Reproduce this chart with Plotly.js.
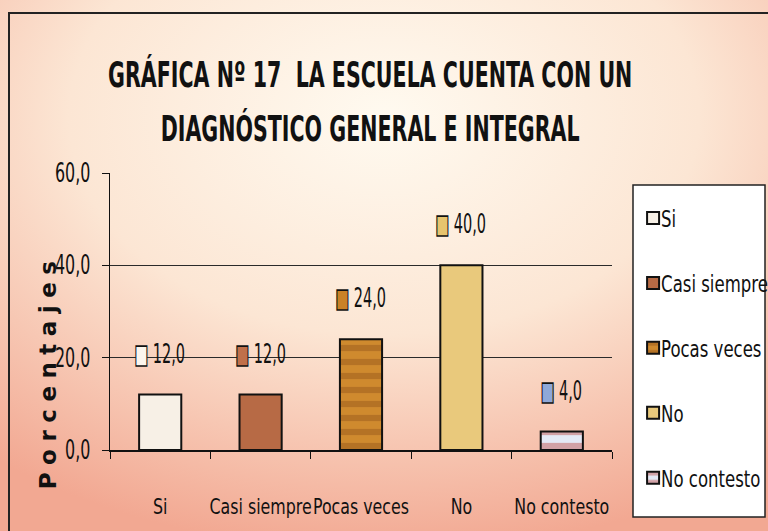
<!DOCTYPE html>
<html>
<head>
<meta charset="utf-8">
<script src="https://cdn.plot.ly/plotly-3.0.1.min.js"></script>
<style>html,body{margin:0;padding:0;background:#fff;}#chart{width:768px;height:531px;}</style>
</head>
<body>
<div id="chart"></div>
<script>
const categories = ["Si", "Casi siempre", "Pocas veces", "No", "No contesto"];
const values = [12.0, 12.0, 24.0, 40.0, 4.0];
const yTickVals = [0, 20, 40, 60];
const colors = ["#f7f0e6", "#b76a45", "#cf8a2e", "#e9c97c", "#e4e9f6"];
const patternColors = ["", "", "#9a5a1c", "", "#c05a55"];
const keyColors = ["#fbf6ee", "#c0704a", "#c98226", "#e6c46e", "#8fa8d8"];

const NARROW = '"Liberation Sans Narrow", "DejaVu Sans Condensed", "Arial Narrow", sans-serif';

const traces = categories.map((c, i) => {
  const m = {color: colors[i], line: {color: "#111", width: 2}};
  if (patternColors[i]) {
    m.pattern = {shape: "-", fgcolor: patternColors[i], bgcolor: colors[i], size: 14, solidity: 0.45, fillmode: "overlay"};
  }
  return {
    type: "bar",
    name: c,
    x: [c],
    y: [values[i]],
    width: 0.42,
    marker: m,
    legendgroup: "g" + i,
    hoverinfo: "skip"
  };
});

const fmt = v => v.toFixed(1).replace(".", ",");
const annotations = categories.map((c, i) => ({
  x: c, y: values[i], xref: "x", yref: "y",
  yshift: 41, xanchor: "center", yanchor: "middle",
  showarrow: false,
  text: "<span style='color:" + keyColors[i] + ";stroke:#111;stroke-width:1.6px'>■</span> " + fmt(values[i]),
  font: {family: NARROW, size: 26, color: "#111"}
}));
annotations.push({
  xref: "paper", yref: "paper", x: (48 - 110) / 502, y: (450 - 372) / 277,
  xanchor: "center", yanchor: "middle", textangle: -90, showarrow: false,
  text: "Porcentajes",
  font: {family: "DejaVu Sans", size: 23, color: "#111", weight: "bold"}
});

const gradSvg = "<svg xmlns='http://www.w3.org/2000/svg' width='768' height='531'><defs><radialGradient id='g' cx='50%' cy='22%' r='82%'><stop offset='0' stop-color='#fffaf0'/><stop offset='0.5' stop-color='#fce6d4'/><stop offset='1' stop-color='#f2a892'/></radialGradient></defs><rect width='768' height='531' fill='url(#g)'/></svg>";

const layout = {
  width: 768, height: 531,
  margin: {l: 110, r: 156, t: 173, b: 81, autoexpand: false},
  paper_bgcolor: "#fbe2d3",
  plot_bgcolor: "#d3d3d6",
  separators: ",.",
  barmode: "overlay",
  showlegend: true,
  title: {
    text: "GRÁFICA Nº 17  LA ESCUELA CUENTA CON UN<br>DIAGNÓSTICO GENERAL E INTEGRAL",
    font: {family: NARROW, size: 36, color: "#111", weight: "bold"},
    x: 0.482, xanchor: "center", xref: "container",
    y: 1 - 87 / 531, yanchor: "middle", yref: "container"
  },
  xaxis: {
    type: "category",
    showline: true, linecolor: "#111", linewidth: 2,
    ticks: "outside", tickson: "boundaries", ticklen: 7, tickcolor: "#111",
    ticklabelstandoff: 36, tickangle: 0,
    tickfont: {family: NARROW, size: 22, color: "#111"},
    showgrid: false, zeroline: false, fixedrange: true
  },
  yaxis: {
    range: [0, 60],
    tickvals: yTickVals,
    tickformat: ".1f",
    showline: true, linecolor: "#111", linewidth: 1.5,
    ticks: "outside", ticklen: 7, tickcolor: "#111",
    ticklabelstandoff: 6,
    tickfont: {family: NARROW, size: 26, color: "#111"},
    showgrid: true, gridcolor: "#2a2a2a", gridwidth: 1.6,
    zeroline: false, fixedrange: true
  },
  legend: {
    x: 1.042, y: 0.957, xanchor: "left", yanchor: "top",
    bgcolor: "rgba(0,0,0,0)", borderwidth: 0,
    font: {family: NARROW, size: 23, color: "#111"},
    title: {text: "&nbsp;", font: {size: 9}},
    tracegroupgap: 32, itemwidth: 30, maxheight: 400
  },
  annotations: annotations,
  images: [{
    source: "data:image/svg+xml;charset=utf-8," + encodeURIComponent(gradSvg),
    xref: "paper", yref: "paper",
    x: -110 / 502, y: 1 + 173 / 277, sizex: 768 / 502, sizey: 531 / 277,
    xanchor: "left", yanchor: "top", sizing: "stretch", layer: "below"
  }],
  shapes: [
    {
      type: "rect", xref: "paper", yref: "paper",
      x0: (9 - 110) / 502, x1: (800 - 110) / 502,
      y0: (450 - 560) / 277, y1: (450 - 13) / 277,
      line: {color: "#222", width: 2}, fillcolor: "rgba(0,0,0,0)", layer: "above"
    },
    {
      type: "rect", xref: "paper", yref: "paper",
      x0: (633 - 110) / 502, x1: (765 - 110) / 502,
      y0: (450 - 517) / 277, y1: (450 - 185) / 277,
      line: {color: "#222", width: 1.5}, fillcolor: "#ffffff", layer: "above"
    }
  ]
};

// horizontally condense a text element around its start / middle / end
function squeeze(el, s, anchor, dx) {
  const bb = el.getBBox();
  const px = anchor === "start" ? bb.x : anchor === "end" ? bb.x + bb.width : bb.x + bb.width / 2;
  const t = el.getAttribute("transform") || "";
  el.setAttribute("transform", t + " translate(" + (px + (dx || 0)) + ",0) scale(" + s + ",1) translate(" + (-px) + ",0)");
}

Plotly.newPlot("chart", traces, layout, {staticPlot: true, displayModeBar: false}).then(gd => {
  const lines = gd.querySelectorAll(".gtitle tspan.line");
  if (lines.length > 1) lines[1].setAttribute("dy", "1.5em");
  gd.querySelectorAll(".annotation-text").forEach(t => {
    if (t.textContent === "Porcentajes") t.style.letterSpacing = "7.5px";
    else squeeze(t, 0.62, "middle");
  });
  gd.querySelectorAll(".gtitle").forEach(t => squeeze(t, 0.636, "middle"));
  gd.querySelectorAll(".xtick text").forEach(t => squeeze(t, 0.8, "middle"));
  gd.querySelectorAll(".ytick text").forEach(t => squeeze(t, 0.68, "end"));
  gd.querySelectorAll(".legendtext").forEach(t => squeeze(t, 0.8, "start", -12));
});
</script>
</body>
</html>
